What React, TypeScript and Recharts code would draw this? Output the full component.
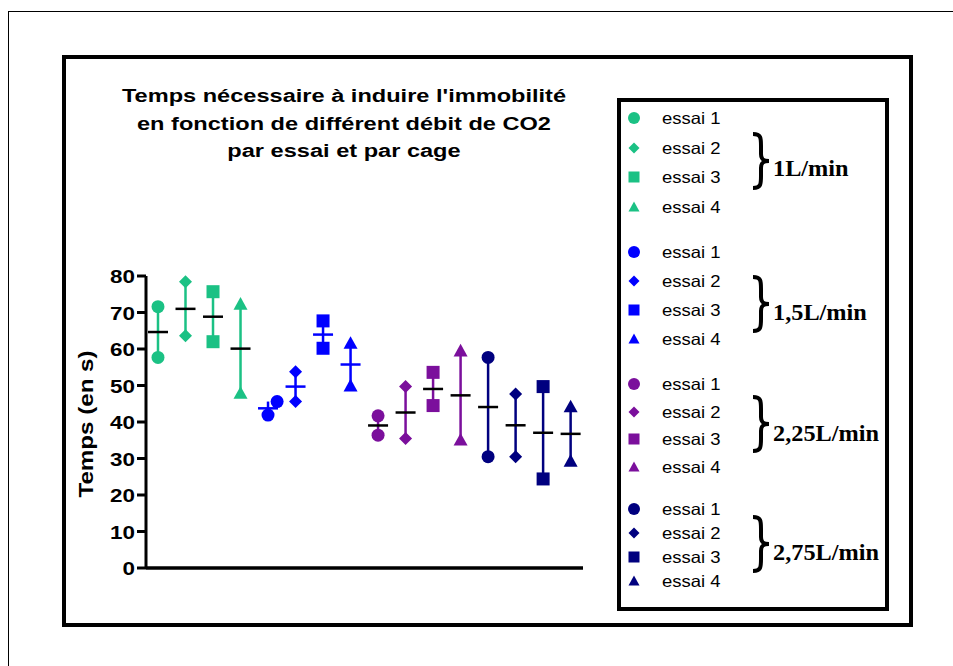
import { ComposedChart, Scatter, XAxis, YAxis, ErrorBar } from 'recharts'

const debits = ['1L/min', '1,5L/min', '2,25L/min', '2,75L/min']
const essais = ['essai 1', 'essai 2', 'essai 3', 'essai 4']
const symbols = ['circle', 'diamond', 'square', 'triangle']
const colors = ['#1BC184', '#0000FF', '#7B0F9C', '#00007F']
const meanColors = ['#000000', '#0000FF', '#000000', '#000000']

// temps (s) par cage, dans l'ordre : débit puis essai
const cage1 = [71.6, 78.4, 75.7, 72.3, 45.6, 53.8, 67.7, 61.6, 41.7, 49.7, 53.6, 59.5, 57.7, 47.7, 49.7, 44.2]
const cage2 = [57.7, 63.6, 62.0, 47.9, 41.9, 45.6, 60.2, 49.9, 36.4, 35.5, 44.5, 35.1, 30.5, 30.5, 24.4, 29.3]
// décalage horizontal des points qui se chevauchent
const shift1 = [0, 0, 0, 0, 0.33, 0, 0, 0, 0, 0, 0, 0, 0, 0, 0, 0]
const yTicks = [0, 10, 20, 30, 40, 50, 60, 70, 80]

const groups = cage1.map((a, i) => {
  const b = cage2[i]
  const mean = (a + b) / 2
  return {
    x: i + 1,
    d: Math.floor(i / 4),
    e: i % 4,
    points: [{ x: i + 1 + shift1[i], y: a }, { x: i + 1, y: b }],
    stat: [{ x: i + 1, y: mean, range: [mean - Math.min(a, b), Math.max(a, b) - mean] }],
  }
})

function Mark({ kind, cx, cy, r, color }: { kind: string; cx: number; cy: number; r: number; color: string }) {
  if (kind === 'circle') return <circle cx={cx} cy={cy} r={r} fill={color} />
  if (kind === 'square') return <rect x={cx - r} y={cy - r} width={2 * r} height={2 * r} fill={color} />
  if (kind === 'diamond')
    return <polygon points={`${cx},${cy - r} ${cx + r},${cy} ${cx},${cy + r} ${cx - r},${cy}`} fill={color} />
  return <polygon points={`${cx},${cy - r} ${cx + r},${cy + r * 0.8} ${cx - r},${cy + r * 0.8}`} fill={color} />
}

function YTick({ x, y, payload }: any) {
  return (
    <text
      x={x}
      y={y}
      dy={7.5}
      textAnchor="end"
      fontSize={19}
      fontWeight="bold"
      fontFamily="Arial, 'Liberation Sans', sans-serif"
      fill="#000"
      transform={`translate(${x} 0) scale(1.18 1) translate(${-x} 0)`}
    >
      {payload.value}
    </text>
  )
}

const groupTop = [118, 252, 384, 509]
const rowGap = [29.5, 29, 27.5, 24]
const braceTop = [132, 275, 395, 515]
const labelY = [169, 313, 434, 553]

function Brace({ top }: { top: number }) {
  return (
    <svg style={{ position: 'absolute', left: 750, top }} width={22} height={58}>
      <path
        d="M3,2 C11,2 11,6 11,14 L11,22 C11,27 13,29 19,29 C13,29 11,31 11,36 L11,44 C11,52 11,56 3,56"
        fill="none"
        stroke="#000"
        strokeWidth={4}
      />
    </svg>
  )
}

function LegendBox() {
  return (
    <>
      <div
        style={{
          position: 'absolute', left: 617, top: 98, width: 272, height: 513,
          boxSizing: 'border-box', border: '4px solid #000',
        }}
      />
      {debits.map((deb, d) => (
        <div key={deb}>
          {essais.map((name, e) => {
            const y = groupTop[d] + e * rowGap[d]
            return (
              <div key={name}>
                <svg style={{ position: 'absolute', left: 626, top: y - 8 }} width={16} height={16}>
                  <Mark kind={symbols[e]} cx={8} cy={8} r={e === 0 ? 6 : 5.5} color={colors[d]} />
                </svg>
                <div
                  style={{
                    position: 'absolute', left: 662, top: y - 10, height: 20, lineHeight: '20px',
                    fontSize: 16.5, fontFamily: 'Arial, "Liberation Sans", sans-serif', color: '#000',
                    transform: 'scaleX(1.12)', transformOrigin: 'left center', whiteSpace: 'nowrap',
                  }}
                >
                  {name}
                </div>
              </div>
            )
          })}
          <Brace top={braceTop[d]} />
          <div
            style={{
              position: 'absolute', left: 773, top: labelY[d] - 14, height: 28, lineHeight: '28px',
              fontSize: 22.5, fontWeight: 'bold', fontFamily: '"Liberation Serif", "Times New Roman", serif',
              transform: 'scaleX(1.08)', transformOrigin: 'left center', whiteSpace: 'nowrap',
            }}
          >
            {deb}
          </div>
        </div>
      ))}
    </>
  )
}

export default function App() {
  return (
    <div style={{ position: 'relative', width: 953, height: 666, overflow: 'hidden', background: '#fff' }}>
      <style>{'body{margin:0;overflow:hidden}'}</style>
      <div
        style={{
          position: 'absolute', left: 8, top: 11, width: 1000, height: 1000,
          borderLeft: '1.5px solid #000', borderTop: '1.5px solid #000',
        }}
      />
      <div
        style={{
          position: 'absolute', left: 62, top: 55, width: 851, height: 572,
          boxSizing: 'border-box', border: '4px solid #000',
        }}
      />
      <div
        style={{
          position: 'absolute', left: 144, top: 83, width: 400, textAlign: 'center',
          fontSize: 18, lineHeight: '27.5px', fontWeight: 'bold',
          fontFamily: 'Arial, "Liberation Sans", sans-serif',
          transform: 'scaleX(1.31)', transformOrigin: 'center top',
        }}
      >
        <div>Temps nécessaire à induire l'immobilité</div>
        <div>en fonction de différent débit de CO2</div>
        <div>par essai et par cage</div>
      </div>
      <div
        style={{
          position: 'absolute', left: 86 - 100, top: 424 - 14, width: 200, height: 28,
          lineHeight: '28px', textAlign: 'center', fontSize: 21, fontWeight: 'bold',
          fontFamily: 'Arial, "Liberation Sans", sans-serif',
          transform: 'rotate(-90deg) scaleX(1.15)',
        }}
      >
        Temps (en s)
      </div>
      <div style={{ position: 'absolute', left: 0, top: 0 }}>
        <ComposedChart width={953} height={666} margin={{ top: 276, right: 370, bottom: 93, left: 87 }}>
          <XAxis
            type="number"
            dataKey="x"
            domain={[0.564, 16.45]}
            tick={false}
            tickLine={false}
            height={5}
            axisLine={{ stroke: '#000', strokeWidth: 3.5 }}
          />
          <YAxis
            type="number"
            dataKey="y"
            domain={[0, 80]}
            ticks={yTicks}
            width={59}
            tickSize={9}
            tick={<YTick />}
            tickLine={{ stroke: '#000', strokeWidth: 3 }}
            axisLine={{ stroke: '#000', strokeWidth: 3 }}
          />
          {groups.map((g) => (
            <Scatter
              key={`p${g.x}`}
              data={g.points}
              isAnimationActive={false}
              shape={(p: any) => (
                <Mark kind={symbols[g.e]} cx={p.cx} cy={p.cy} r={g.e === 3 ? 7 : 6.5} color={colors[g.d]} />
              )}
            />
          ))}
          {groups.map((g) => (
            <Scatter
              key={`m${g.x}`}
              data={g.stat}
              isAnimationActive={false}
              shape={(p: any) => (
                <line x1={p.cx - 10} x2={p.cx + 10} y1={p.cy} y2={p.cy} stroke={meanColors[g.d]} strokeWidth={2.5} />
              )}
            >
              <ErrorBar dataKey="range" direction="y" width={0} stroke={colors[g.d]} strokeWidth={2.5} isAnimationActive={false} />
            </Scatter>
          ))}
        </ComposedChart>
      </div>
      <LegendBox />
    </div>
  )
}
